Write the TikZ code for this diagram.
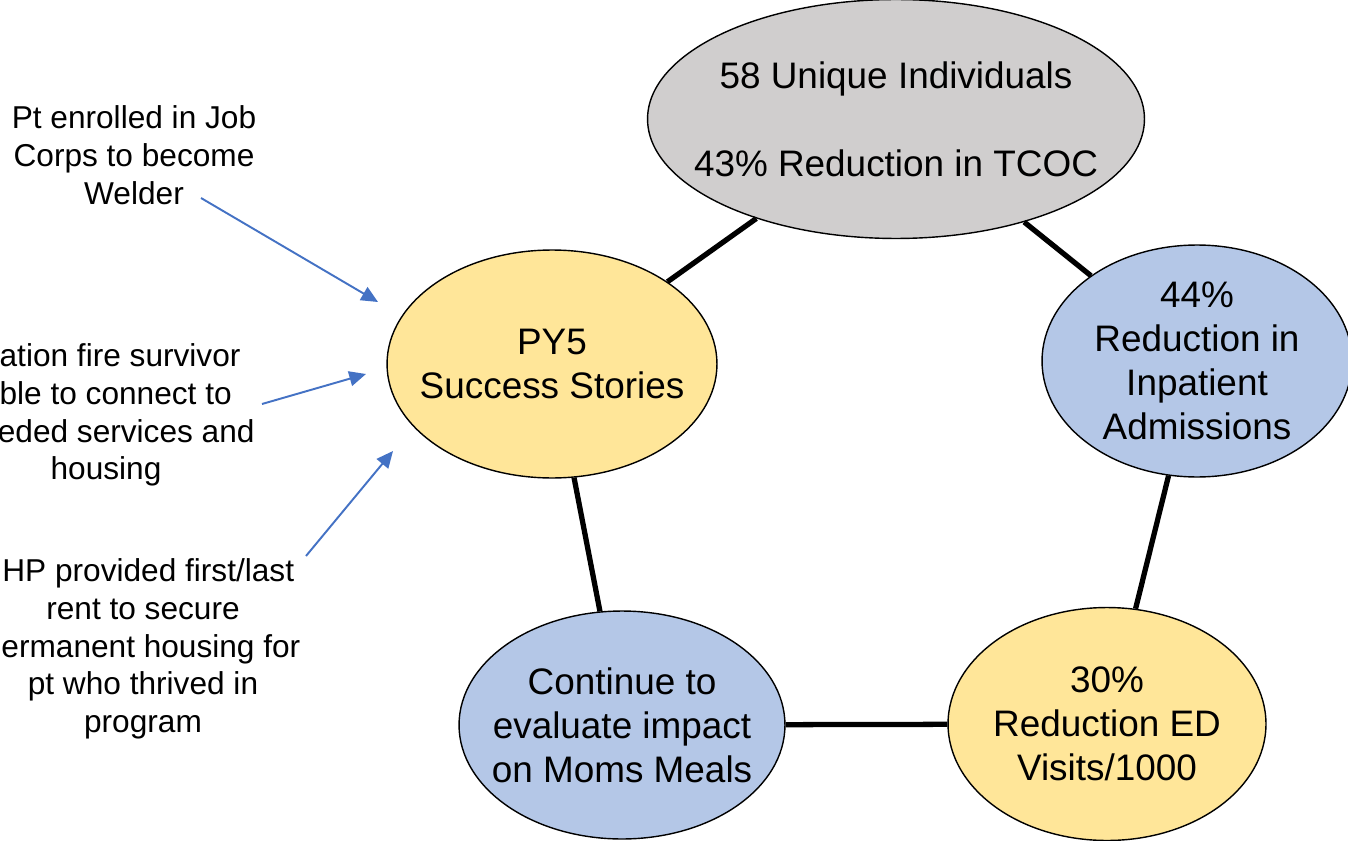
\documentclass[tikz,border=0pt]{standalone}
\usepackage{fontspec}
\setmainfont{Liberation Sans}
\usepackage{xcolor}
\usepackage{tikz}
\usetikzlibrary{shapes.geometric, arrows.meta}
\definecolor{tcocgray}{HTML}{D0CECE}
\definecolor{storyyellow}{HTML}{FFE699}
\definecolor{resultblue}{HTML}{B4C7E7}
\definecolor{pointerblue}{HTML}{4472C4}
\tikzstyle{outcome} = [ellipse, 
draw=black, 
line width=0.8pt, 
inner sep=-2cm, 
align=center, 
font=\fontsize{21}{25}\selectfont]
\tikzstyle{story} = [inner sep=0pt, 
align=center, 
font=\fontsize{18}{21.5}\selectfont]
\tikzstyle{link} = [line width=3pt, draw=black]
\tikzstyle{pointer} = [line width=1.1pt, draw=pointerblue, -{Triangle[length=9.5pt,width=8.5pt]}]

\begin{document}
\begin{tikzpicture}[x=0.02cm, y=-0.02cm]
\useasboundingbox (0,0) rectangle (1348,841);
\clip (0,0) rectangle (1348,841);

\node (tcoc) [outcome, fill=tcocgray, minimum width=9.94cm, minimum height=4.78cm] at (896,119) {58 Unique Individuals\\[25pt]43\% Reduction in TCOC};
\node (py5) [outcome, fill=storyyellow, minimum width=6.6cm, minimum height=4.56cm] at (552,364) {PY5\\Success Stories};
\node (inpatient) [outcome, fill=resultblue, minimum width=6.2cm, minimum height=4.64cm] at (1197,361) {44\%\\Reduction in\\Inpatient\\Admissions};
\node (edvisits) [outcome, fill=storyyellow, minimum width=6.36cm, minimum height=4.66cm] at (1107,724) {30\%\\Reduction ED\\Visits/1000};
\node (meals) [outcome, fill=resultblue, minimum width=6.52cm, minimum height=4.56cm] at (622,725) {Continue to\\evaluate impact\\on Moms Meals};

\draw [link] (tcoc) -- (py5);
\draw [link] (tcoc) -- (inpatient);
\draw [link] (inpatient) -- (edvisits);
\draw [link] (edvisits) -- (meals);
\draw [link] (meals) -- (py5);

% success stories on the left
\node (welder) [story] at (134,155) {Pt enrolled in Job\\Corps to become\\Welder};
\node (survivor) [story] at (106,415) {\hspace*{16pt}ation fire survivor\\\hspace*{11pt}ble to connect to\\\hspace*{23pt}eded services and\\housing};
\node (rent) [story] at (143,649) {\hspace*{6pt}HP provided first/last\\rent to secure\\\hspace*{9pt}ermanent housing for\\pt who thrived in\\program};

\coordinate (welderfrom) at (201,198);
\coordinate (welderto) at (378,302);
\coordinate (survivorfrom) at (262,404);
\coordinate (survivorto) at (366,374);
\coordinate (rentfrom) at (306,556);
\coordinate (rentto) at (393,451);

\draw [pointer] (welderfrom) -- (welderto);
\draw [pointer] (survivorfrom) -- (survivorto);
\draw [pointer] (rentfrom) -- (rentto);

\end{tikzpicture}
\end{document}
